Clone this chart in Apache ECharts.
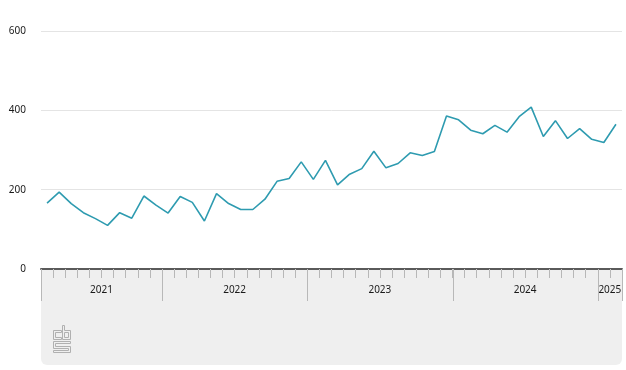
<!DOCTYPE html>
<html>
<head>
<meta charset="utf-8">
<script src="https://cdn.jsdelivr.net/npm/echarts@6/dist/echarts.min.js"></script>
<style>
html,body{margin:0;padding:0;background:#fff;}
#c{width:626px;height:370px;}
</style>
</head>
<body>
<div id="c"></div>
<script>
var months = [
  '2021-03','2021-04','2021-05','2021-06','2021-07','2021-08','2021-09','2021-10','2021-11','2021-12',
  '2022-01','2022-02','2022-03','2022-04','2022-05','2022-06','2022-07','2022-08','2022-09','2022-10','2022-11','2022-12',
  '2023-01','2023-02','2023-03','2023-04','2023-05','2023-06','2023-07','2023-08','2023-09','2023-10','2023-11','2023-12',
  '2024-01','2024-02','2024-03','2024-04','2024-05','2024-06','2024-07','2024-08','2024-09','2024-10','2024-11','2024-12',
  '2025-01','2025-02'
];
var values = [
  166,194,165,142,127,110,142,128,184,161,
  141,183,168,121,190,165,150,150,176,221,228,270,
  226,274,212,239,253,297,255,266,293,286,296,386,
  376,350,341,362,345,384,408,334,374,329,354,327,
  319,365
];
var yTicks = [0, 200, 400, 600];
var yearLabelIndex = [4, 15, 27, 39, 46];
var yearStartIndex = [0, 10, 22, 34, 46];

var font = 'Noto Sans';
var logoFill = '#b0b0b0';
var chart = echarts.init(document.getElementById('c'), null, {renderer: 'canvas'});
chart.setOption({
  animation: false,
  backgroundColor: '#ffffff',
  grid: {left: 41, right: 4, top: 31, bottom: 101, containLabel: false},
  xAxis: {
    type: 'category',
    data: months,
    boundaryGap: true,
    axisLine: {show: true, lineStyle: {color: '#5a5a5a', width: 2}},
    axisTick: {show: true, interval: 0, length: 9, lineStyle: {color: '#c4c4c4', width: 1}},
    axisLabel: {
      show: true,
      interval: function (idx) { return yearLabelIndex.indexOf(idx) >= 0; },
      formatter: function (v) { return v.slice(0, 4); },
      padding: [0, 0, 0, 12],
      margin: 16,
      fontSize: 10,
      fontFamily: font,
      color: '#1c1c1c'
    },
    splitLine: {show: false}
  },
  yAxis: {
    type: 'value',
    min: yTicks[0],
    max: yTicks[yTicks.length - 1],
    interval: 200,
    axisLine: {show: false},
    axisTick: {show: false},
    axisLabel: {margin: 15, fontSize: 10, fontFamily: font, color: '#1a1a1a', padding: [2, 0, 0, 0]},
    splitLine: {show: true, lineStyle: {color: '#e4e4e4', width: 1}}
  },
  series: [{
    type: 'line',
    data: values,
    symbol: 'none',
    lineStyle: {color: '#2e9bb0', width: 1.6}
  }]
});

// panel and year boundary marks placed from the axis scales
var p0 = chart.convertToPixel({xAxisIndex: 0}, 0);
var p1 = chart.convertToPixel({xAxisIndex: 0}, 1);
var bandW = p1 - p0;
var y0 = Math.round(chart.convertToPixel({yAxisIndex: 0}, 0));
var xStart = p0 - bandW / 2;
var xEnd = chart.convertToPixel({xAxisIndex: 0}, months.length - 1) + bandW / 2;
var bounds = yearStartIndex.map(function (i) { return chart.convertToPixel({xAxisIndex: 0}, i) - bandW / 2; });
bounds.push(xEnd);

var g = [
  {type: 'rect', z: 100, silent: true,
   shape: {x: Math.round(xStart), y: y0 + 1, width: Math.round(xEnd - xStart), height: 365 - y0 - 1, r: [0, 0, 6, 6]},
   style: {fill: 'rgba(0,0,0,0.063)'}}
];
bounds.forEach(function (x) {
  g.push({type: 'rect', z: 101, silent: true,
    shape: {x: Math.round(x), y: y0, width: 1, height: 32},
    style: {fill: '#b8b8b8'}});
});
// cbs logo
var lx = 53, ly = 325;
[
  [[8,5],[0,5],[0,14],[8,14],[8,12],[2,12],[2,7],[8,7]],
  [[9,0],[11,0],[11,5],[17,5],[17,14],[9,14]],
  [[0,16],[17,16],[17,18],[2,18],[2,21],[17,21],[17,27],[0,27],[0,25],[15,25],[15,23],[0,23]]
].forEach(function (pts) {
  g.push({type: 'polyline', z: 101, silent: true,
    shape: {points: pts.concat([pts[0]]).map(function (p) { return [lx + p[0] + 0.5, ly + p[1] + 0.5]; })},
    style: {stroke: logoFill, lineWidth: 1, fill: null}});
});
g.push({type: 'polyline', z: 101, silent: true,
  shape: {points: [[lx + 11.5, ly + 7.5], [lx + 15.5, ly + 7.5], [lx + 15.5, ly + 12.5], [lx + 11.5, ly + 12.5], [lx + 11.5, ly + 7.5]]},
  style: {stroke: logoFill, lineWidth: 1, fill: null}});
chart.setOption({graphic: g});
</script>
</body>
</html>
